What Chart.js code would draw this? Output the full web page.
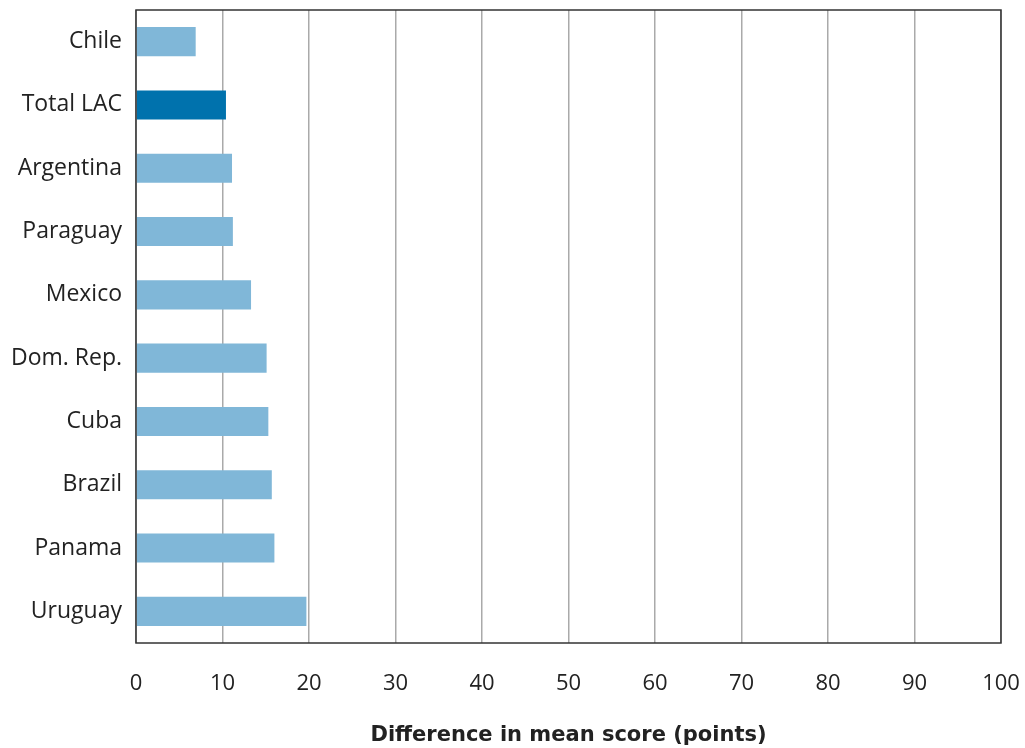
<!DOCTYPE html>
<html>
<head>
<meta charset="utf-8">
<script src="https://cdn.jsdelivr.net/npm/chart.js@4/dist/chart.umd.min.js"></script>
<style>
  html, body { margin: 0; padding: 0; background: #fff; }
  #wrap { width: 1025px; height: 748px; }
</style>
</head>
<body>
<div id="wrap"><canvas id="canvas" width="1025" height="748"></canvas></div>
<script>
let countries = ["Chile", "Total LAC", "Argentina", "Paraguay", "Mexico", "Dom. Rep.", "Cuba", "Brazil", "Panama", "Uruguay"];
let differences = [6.9, 10.4, 11.1, 11.2, 13.3, 15.1, 15.3, 15.7, 16.0, 19.7];
let xTicks = [0, 10, 20, 30, 40, 50, 60, 70, 80, 90, 100];
let colorLight = "#80B7D8";
let colorDark = "#0072AD";
let fontFamily = "'Open Sans', sans-serif";

// frame around the plot area (top and right sides too)
let frame = {
    id: "frame",
    afterDatasetsDraw(chart) {
        let a = chart.chartArea;
        let ctx = chart.ctx;
        ctx.save();
        ctx.strokeStyle = "#333";
        ctx.lineWidth = 1.5;
        ctx.strokeRect(a.left, a.top, a.right - a.left, a.bottom - a.top);
        ctx.restore();
    }
};

let noPadding = (axis) => {
    axis.paddingTop = 0;
    axis.paddingBottom = 0;
    axis.paddingLeft = 0;
    axis.paddingRight = 0;
};

new Chart(document.getElementById("canvas").getContext("2d"), {
    type: "bar",
    data: {
        labels: countries,
        datasets: [{
            data: differences,
            backgroundColor: countries.map((c) => c == "Total LAC" ? colorDark : colorLight),
            barPercentage: 0.46,
            categoryPercentage: 1
        }]
    },
    options: {
        indexAxis: "y",
        responsive: false,
        animation: false,
        layout: { padding: { top: 10, right: 24, left: 0, bottom: 0 } },
        plugins: {
            legend: { display: false },
            tooltip: { enabled: false }
        },
        scales: {
            x: {
                min: 0,
                max: 100,
                afterBuildTicks: (axis) => { axis.ticks = xTicks.map((v) => ({ value: v })); },
                afterFit: (axis) => { axis.height = 105; noPadding(axis); },
                grid: { color: "#aaa", lineWidth: 1.5, drawTicks: false },
                border: { display: false },
                ticks: { color: "#222", font: { family: fontFamily, size: 22 }, padding: 28 },
                title: {
                    display: true,
                    text: "Difference in mean score (points)",
                    color: "#222",
                    font: { family: "'DejaVu Sans', sans-serif", size: 21, weight: "bold" },
                    padding: { top: 12, bottom: 0 }
                }
            },
            y: {
                afterFit: (axis) => { axis.width = 136; noPadding(axis); },
                grid: { display: false },
                border: { display: false },
                ticks: { color: "#222", font: { family: fontFamily, size: 23 }, padding: 6 }
            }
        }
    },
    plugins: [frame]
});
</script>
</body>
</html>
